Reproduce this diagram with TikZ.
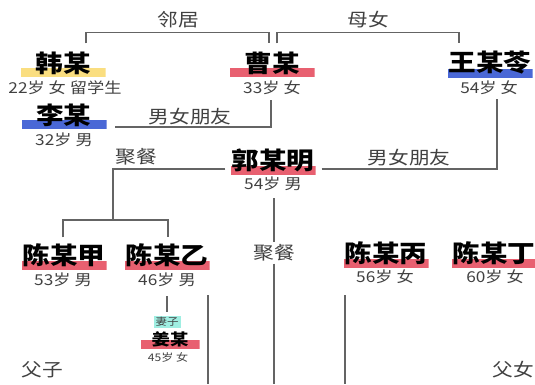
\documentclass[tikz,border=0pt]{standalone}
\usepackage{fontspec}
\setmainfont{Noto Sans CJK SC}[FakeStretch=1.15]
\usetikzlibrary{calc}
\definecolor{redbar}{RGB}{232,96,112}
\definecolor{bluebar}{RGB}{74,104,214}
\definecolor{yellowbar}{RGB}{250,222,128}
\definecolor{wifebg}{RGB}{160,238,226}
\definecolor{linkgray}{RGB}{100,100,100}
\definecolor{textgray}{RGB}{65,65,65}

\begin{document}
\begin{tikzpicture}[x=1pt,y=-1pt,
    person/.style={inner xsep=0pt, inner ysep=3pt, minimum width=85pt,
        font=\fontsize{24}{24}\selectfont\bfseries,
        path picture={\fill[#1] (path picture bounding box.south west)
            rectangle ([yshift=9pt]path picture bounding box.south east);}},
    info/.style={font=\fontsize{15}{15}\selectfont, text=textgray, inner sep=1pt},
    rel/.style={font=\fontsize{18}{18}\selectfont, text=textgray, inner sep=2pt},
    link/.style={draw=linkgray, line width=1.6pt}]
    \path[fill=white, use as bounding box] (0,0) rectangle (535,384);

    \node[person=yellowbar] (han) at (63,63) {韩某};
    \node[info] (hanInfo) at (65,88) {22岁 女 留学生};
    \node[person=redbar] (cao) at (272,63) {曹某};
    \node[info] (caoInfo) at (272,88) {33岁 女};
    \node[person=bluebar] (wang) at (490,63) {王某苓};
    \node[info] (wangInfo) at (489,88) {54岁 女};
    \node[person=bluebar] (li) at (64,115) {李某};
    \node[info] (liInfo) at (64,140) {32岁 男};
    \node[person=redbar] (guo) at (273,160) {郭某明};
    \node[info] (guoInfo) at (273,184) {54岁 男};
    \node[person=redbar] (chenjia) at (64,255) {陈某甲};
    \node[info] (chenjiaInfo) at (63,280) {53岁 男};
    \node[person=redbar] (chenyi) at (167,255) {陈某乙};
    \node[info] (chenyiInfo) at (167,280) {46岁 男};
    \node[person=redbar] (chenbing) at (386,253) {陈某丙};
    \node[info] (chenbingInfo) at (385,277) {56岁 女};
    \node[person=redbar] (chending) at (494,253) {陈某丁};
    \node[info] (chendingInfo) at (495,277) {60岁 女};
    \node[font=\fontsize{10}{10}\selectfont, fill=wifebg, text=textgray,
        inner xsep=2pt, inner ysep=1pt] (wife) at (167,322) {妻子};
    \node[person=redbar, minimum width=59pt, inner ysep=2pt,
        font=\fontsize{16}{16}\selectfont\bfseries] (jiang) at (170,339) {姜某};
    \node[info, font=\fontsize{10.5}{10.5}\selectfont] (jiangInfo) at (168,357) {45岁 女};

    \node[rel] (linju) at (178,20) {邻居};
    \node[rel] (munv) at (368,20) {母女};
    \node[rel] (pengyouA) at (190,117) {男女朋友};
    \node[rel] (jucanA) at (136,157) {聚餐};
    \node[rel] (pengyouB) at (409,158) {男女朋友};
    \node[rel] (jucanB) at (274,253) {聚餐};
    \node[rel] (fuzi) at (42,370) {父子};
    \node[rel] (funv) at (513,370) {父女};

    \coordinate (bottom) at (0,384);
    \coordinate (fork) at (113,220);
    \coordinate (yiTop) at (208,295);
    \coordinate (bingTop) at (345,295);

    \draw[link] ([xshift=23pt,yshift=5pt]han.north) -- ++(0,-11) -| ([xshift=-3pt,yshift=5pt]cao.north);
    \draw[link] ([xshift=5pt,yshift=5pt]cao.north) -- ++(0,-11) -| ([xshift=-31pt,yshift=5pt]wang.north);
    \draw[link] ([xshift=-1pt,yshift=-4pt]caoInfo.south) |- ([xshift=8pt,yshift=-12pt]li.east);
    \draw[link] ([xshift=-5pt,yshift=-9pt]guo.west) -| (fork);
    \draw[link] ([xshift=-1pt,yshift=3pt]chenjia.north) |- (fork) -| ([xshift=1pt,yshift=3pt]chenyi.north);
    \draw[link] ([xshift=6pt,yshift=-9pt]guo.east) -| ([xshift=8pt,yshift=-3pt]wangInfo.south);
    \draw[link] ($(jucanB.north |- guoInfo.south)+(0,6)$) -- (jucanB.north);
    \draw[link] (jucanB.south) -- (jucanB.south |- bottom);
    \draw[link] ([yshift=-8pt]chenyiInfo.south) -- ([yshift=4pt]wife.north);
    \draw[link] (yiTop) -- (yiTop |- bottom);
    \draw[link] (bingTop) -- (bingTop |- bottom);
\end{tikzpicture}
\end{document}
